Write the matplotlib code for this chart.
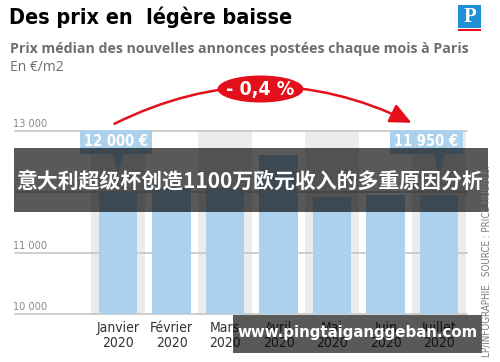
import matplotlib
matplotlib.use("Agg")
import matplotlib.pyplot as plt
from matplotlib import font_manager
from matplotlib.patches import Rectangle, Ellipse, FancyArrowPatch, Polygon

# values
months = ["Janvier", "Février", "Mars", "Avril", "Mai", "Juin", "Juillet"]
year = "2020"
prices = [12000, 12080, 12060, 12600, 11920, 11950, 11950]
yticks = [10000, 11000, 12000, 13000]
ytick_labels = ["10 000", "11 000", "", "13 000"]   # 12 000 hidden by the banner
callout_idx = [0, 6]
callout_txt = ["12 000 €", "11 950 €"]
change = "- 0,4 %"

title = "Des prix en  légère baisse"
subtitle = "Prix médian des nouvelles annonces postées chaque mois à Paris"
unit = "En €/m2"
source = "LP/INFOGRAPHIE.  SOURCE : PRICE HUBBLE."
banner = "意大利超级杯创造1100万欧元收入的多重原因分析"
watermark = "www.pingtaiganggeban.com"

# narrow face for the condensed newspaper look
cond = [f for f in font_manager.fontManager.ttflist
        if f.name == "DejaVu Sans" and f.stretch == "condensed"]
NARROW = dict(family="DejaVu Sans", stretch="condensed") if cond else dict(family="Roboto")

BLUE = "#acd1ec"
STRIPE = "#ececec"
GRID = "#c6c6c6"
RED = "#e3101b"

W, H = 500, 362
fig = plt.figure(figsize=(W / 100, H / 100), dpi=100)


def fx(x):
    return x / W


def fy(y):
    return 1 - y / H


# plot area: 10 000 baseline at y=314px, 13 000 at y=131px
ax = fig.add_axes([fx(15), fy(314), (467 - 15) / W, (314 - 131) / H])
x = list(range(len(months)))
ax.set_xlim(-1.925, 6.52)
ax.set_ylim(yticks[0], yticks[-1])
ax.axis("off")

for i in x[::2]:
    ax.axvspan(i - 0.5, i + 0.5, color=STRIPE, lw=0, zorder=0)
for v, lab in zip(yticks, ytick_labels):
    ax.axhline(v, color=GRID, lw=1.2, zorder=1, clip_on=False)
    if lab:
        ax.annotate(lab, xy=(0, v), xycoords=("axes fraction", "data"),
                    xytext=(-2, 4), textcoords="offset pixels", ha="left", va="baseline",
                    fontsize=7.8, color="#8a8a8a", **NARROW)

ax.bar(x, prices, width=0.72, color=BLUE, zorder=2)

for i, m in zip(x, months):
    ax.annotate(m + "\n" + year, xy=(i, yticks[0]), xytext=(0, -7),
                textcoords="offset pixels", ha="center", va="top",
                fontsize=10, color="#333333", linespacing=1.05, **NARROW)

# callout boxes above first and last bar
for i, t, dx in zip(callout_idx, callout_txt, [-0.04, -0.24]):
    ax.text(i + dx, 12820, t, ha="center", va="center",
            fontsize=10.5, weight="bold", color="white", zorder=4, clip_on=False,
            bbox=dict(boxstyle="square,pad=0.3", fc=BLUE, ec="none"), **NARROW)
    tip = prices[i] + 300
    ax.add_patch(Polygon([(i - 0.11, 12660), (i + 0.11, 12660), (i, tip)],
                         closed=True, fc=BLUE, ec="none", zorder=4, clip_on=False))

# header
fig.text(fx(9), fy(7), title, ha="left", va="top",
         weight="bold", fontsize=15.5, color="black", **NARROW)
fig.text(fx(10), fy(42), subtitle, ha="left", va="top", family="Open Sans",
         weight="bold", fontsize=10.2, color="#6e6e6e")
fig.text(fx(10), fy(60), unit, ha="left", va="top", family="Open Sans",
         fontsize=10, color="#6e6e6e")

# logo
fig.add_artist(Rectangle((fx(458), fy(28)), 23 / W, 23 / H, transform=fig.transFigure,
                         fc="#1f8fd6", ec="none"))
fig.add_artist(Rectangle((fx(458), fy(31)), 23 / W, 2 / H, transform=fig.transFigure,
                         fc=RED, ec="none"))
fig.text(fx(469.5), fy(16.5), "P", ha="center", va="center", family="Liberation Serif",
         weight="bold", fontsize=15, color="white")

# red arc and badge
arc = FancyArrowPatch((fx(112), fy(125)), (fx(414), fy(124)), transform=fig.transFigure,
                      connectionstyle="arc3,rad=-0.25",
                      arrowstyle="-|>,head_length=0.65,head_width=0.3",
                      mutation_scale=20, color=RED, lw=1.8)
fig.add_artist(arc)
fig.add_artist(Ellipse((fx(260.5), fy(89)), 86 / W, 27 / H, transform=fig.transFigure,
                       fc=RED, ec="none"))
fig.text(fx(260.5), fy(89.5), change, ha="center", va="center",
         weight="bold", fontsize=14, color="white", **NARROW)

# vertical source
fig.text(fx(487), fy(357), source, rotation=90, ha="center", va="bottom",
         fontsize=7, color="#7a7a7a", **NARROW)

# overlay banner and watermark
fig.add_artist(Rectangle((fx(14), fy(212)), (488 - 14) / W, 64 / H,
                         transform=fig.transFigure, fc="black", alpha=0.65, ec="none"))
fig.text(fx(250), fy(181), banner, ha="center", va="center",
         family=["Noto Sans CJK SC", "DejaVu Sans"], weight="bold", fontsize=15, color="white")
fig.add_artist(Rectangle((fx(233), fy(353)), (482 - 233) / W, 38 / H,
                         transform=fig.transFigure, fc="black", alpha=0.65, ec="none"))
fig.text(fx(358), fy(333), watermark, ha="center", va="center", family="DejaVu Sans",
         weight="bold", fontsize=10.8, color="white")

fig.savefig("out.png", dpi=100)
